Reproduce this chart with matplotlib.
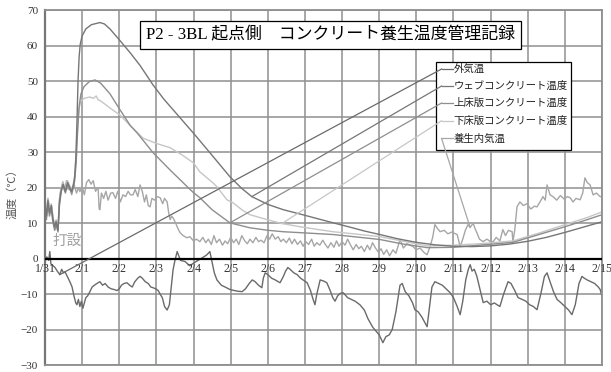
import numpy as np
import matplotlib as mpl
mpl.rcParams['font.family'] = ['Liberation Serif', 'Noto Sans CJK JP']
mpl.rcParams['axes.unicode_minus'] = True
from matplotlib import pyplot as plt
from matplotlib.patches import Rectangle

title = 'P2 - 3BL 起点側　コンクリート養生温度管理記録'
day_labels = ['1/31', '2/1', '2/2', '2/3', '2/4', '2/5', '2/6', '2/7', '2/8',
              '2/9', '2/10', '2/11', '2/12', '2/13', '2/14', '2/15']
series_names = ['外気温', 'ウェブコンクリート温度', '上床版コンクリート温度',
                '下床版コンクリート温度', '養生内気温']

# days counted from 1/31 0:00
out_day = [0.00, 0.05, 0.10, 0.13, 0.16, 0.22, 0.27, 0.33, 0.40, 0.45, 0.50, 0.54,
           0.60, 0.67, 0.73, 0.78, 0.83, 0.86, 0.90, 0.94, 0.98, 1.02, 1.06, 1.10,
           1.15, 1.21, 1.27, 1.33, 1.40, 1.48, 1.55, 1.62, 1.70, 1.78, 1.86, 1.94,
           2.00, 2.06, 2.13, 2.21, 2.28, 2.35, 2.42, 2.50, 2.56, 2.62, 2.70, 2.78,
           2.85, 2.91, 2.98, 3.05, 3.10, 3.16, 3.22, 3.29, 3.35, 3.40, 3.45, 3.50,
           3.56, 3.65, 3.77, 3.90, 4.04, 4.20, 4.35, 4.44, 4.50, 4.56, 4.63, 4.75,
           4.85, 4.98, 5.10, 5.20, 5.31, 5.40, 5.50, 5.58, 5.66, 5.75, 5.84, 5.88,
           5.93, 6.00, 6.10, 6.20, 6.33, 6.42, 6.48, 6.54, 6.60, 6.70, 6.79, 6.88,
           6.95, 7.06, 7.15, 7.22, 7.27, 7.32, 7.41, 7.50, 7.59, 7.68, 7.75, 7.81,
           7.88, 7.95, 8.03, 8.15, 8.25, 8.35, 8.48, 8.60, 8.70, 8.83, 8.92, 9.00,
           9.10, 9.18, 9.27, 9.35, 9.45, 9.56, 9.62, 9.70, 9.80, 9.90, 9.96, 10.05,
           10.15, 10.29, 10.35, 10.42, 10.50, 10.60, 10.70, 10.80, 10.91, 11.00, 11.10, 11.18,
           11.25, 11.33, 11.40, 11.45, 11.50, 11.56, 11.63, 11.70, 11.80, 11.90, 12.00, 12.10,
           12.25, 12.35, 12.47, 12.55, 12.65, 12.74, 12.85, 12.95, 13.05, 13.15, 13.25, 13.35,
           13.45, 13.52, 13.60, 13.70, 13.79, 13.90, 14.00, 14.10, 14.19, 14.28, 14.38, 14.46,
           14.52, 14.60, 14.70, 14.80, 14.90, 14.95, 15.00]
out_temp = [-1.0, 0.5, -0.5, 2.0, -1.5, -2.0, -2.5, -3.5, -4.5, -3.0, -4.0, -3.7,
            -5.0, -6.5, -8.0, -10.5, -12.5, -13.0, -11.5, -13.5, -12.0, -14.0, -12.5, -11.0,
            -10.5, -9.3, -8.0, -7.5, -7.0, -6.5, -7.5, -7.0, -8.0, -8.5, -8.7, -9.0,
            -8.5, -7.5, -7.0, -6.8, -7.5, -8.0, -6.5, -5.5, -5.0, -5.5, -6.5, -7.0,
            -8.0, -8.2, -8.5, -9.0, -10.0, -11.0, -13.5, -14.5, -13.0, -8.0, -3.1, -0.5,
            2.0, -0.5, -0.8, -2.0, -1.0, 0.0, 1.0, 2.0, -1.0, -4.0, -6.0, -7.5,
            -8.0, -8.7, -9.0, -9.2, -9.3, -8.5, -7.0, -6.0, -6.5, -7.5, -8.2, -5.5,
            -4.0, -4.5, -5.5, -6.0, -6.8, -5.0, -3.5, -2.5, -3.0, -4.0, -4.5, -5.5,
            -6.0, -6.8, -9.0, -11.5, -13.0, -10.0, -6.0, -6.3, -6.8, -9.0, -11.0, -12.0,
            -10.5, -9.8, -9.6, -11.0, -11.5, -12.0, -13.0, -14.5, -17.0, -19.4, -20.5, -21.5,
            -23.7, -22.0, -21.5, -20.0, -15.0, -7.5, -7.0, -9.3, -10.5, -12.5, -14.4, -15.0,
            -16.5, -19.2, -14.0, -8.0, -6.5, -7.0, -7.5, -8.5, -9.6, -11.0, -13.5, -15.8,
            -12.0, -6.0, -3.0, -1.7, -3.5, -3.0, -5.0, -8.0, -12.4, -12.0, -13.0, -12.5,
            -13.5, -10.0, -6.5, -7.0, -9.0, -11.0, -11.5, -12.0, -13.0, -13.5, -14.4, -10.0,
            -5.0, -4.0, -6.5, -9.5, -11.5, -12.5, -13.5, -14.5, -15.8, -13.0, -7.0, -5.0,
            -5.5, -6.0, -6.5, -7.0, -8.0, -8.7, -10.7]

web_day = [0.00, 0.04, 0.08, 0.12, 0.17, 0.21, 0.26, 0.30, 0.35, 0.39, 0.44, 0.49,
           0.55, 0.61, 0.67, 0.72, 0.77, 0.80, 0.83, 0.86, 0.89, 0.92, 0.95, 1.00,
           1.10, 1.25, 1.48, 1.60, 1.75, 2.02, 2.30, 2.56, 2.91, 3.20, 3.55, 3.99,
           4.44, 4.98, 5.30, 5.57, 6.00, 6.42, 6.90, 7.33, 7.80, 8.21, 8.60, 9.02,
           9.50, 10.00, 10.50, 11.00, 11.50, 12.00, 12.50, 13.00, 13.50, 14.00, 14.50, 15.00]
web_temp = [15.5, 12.0, 16.5, 13.0, 15.0, 11.5, 9.0, 10.5, 8.0, 16.0, 19.5, 21.0,
            19.0, 21.5, 20.0, 19.0, 21.0, 23.0, 28.0, 38.0, 50.0, 57.0, 60.5, 62.8,
            64.8, 66.0, 66.6, 66.2, 64.8, 61.5, 58.0, 54.5, 49.0, 45.0, 40.8, 35.5,
            29.9, 23.1, 19.8, 17.5, 15.3, 13.8, 12.5, 11.3, 10.0, 8.9, 7.8, 6.8,
            5.6, 4.6, 3.9, 3.5, 3.4, 3.6, 4.1, 4.9, 6.0, 7.4, 8.9, 10.4]

top_day = [0.00, 0.04, 0.08, 0.12, 0.17, 0.21, 0.26, 0.30, 0.35, 0.39, 0.44, 0.49,
           0.55, 0.61, 0.67, 0.72, 0.77, 0.80, 0.84, 0.88, 0.92, 0.97, 1.05, 1.20,
           1.35, 1.50, 1.75, 2.02, 2.30, 2.48, 2.91, 3.37, 3.83, 4.00, 4.17, 4.50,
           4.98, 5.52, 6.00, 6.41, 7.10, 7.76, 8.40, 9.02, 9.60, 10.30, 11.00, 11.70,
           12.60, 13.30, 14.00, 14.60, 15.00]
top_temp = [14.0, 11.0, 15.5, 12.0, 14.0, 10.5, 8.0, 9.5, 7.5, 15.0, 19.0, 20.5,
            18.5, 21.0, 19.5, 18.5, 20.5, 22.0, 27.0, 36.0, 43.0, 46.5, 48.5, 50.0,
            50.4, 49.5, 46.5, 42.0, 37.5, 35.5, 29.9, 25.0, 20.3, 18.6, 17.2, 13.8,
            10.1, 8.7, 8.0, 7.6, 7.2, 6.8, 6.1, 5.4, 4.2, 3.1, 3.2, 3.8,
            4.6, 6.8, 9.0, 11.0, 12.4]

bot_day = [0.00, 0.04, 0.08, 0.12, 0.17, 0.21, 0.26, 0.30, 0.35, 0.39, 0.44, 0.49,
           0.55, 0.61, 0.67, 0.72, 0.77, 0.80, 0.84, 0.88, 0.92, 0.97, 1.05, 1.21,
           1.30, 1.38, 1.43, 1.50, 1.75, 2.02, 2.30, 2.64, 3.00, 3.37, 3.70, 4.00,
           4.17, 4.52, 4.63, 4.90, 5.06, 5.30, 5.52, 5.98, 6.38, 6.87, 7.30, 7.76,
           8.40, 9.02, 9.60, 10.30, 11.00, 11.70, 12.60, 13.30, 14.00, 14.60, 15.00]
bot_temp = [16.5, 13.0, 17.0, 14.0, 15.5, 12.0, 9.5, 11.0, 9.0, 17.0, 20.0, 21.5,
            19.5, 22.0, 20.5, 19.5, 21.5, 23.5, 30.0, 38.0, 42.5, 44.5, 45.2, 45.6,
            45.2, 45.9, 44.8, 44.5, 42.5, 40.5, 37.5, 34.0, 32.5, 31.3, 29.2, 27.0,
            24.5, 21.4, 20.3, 16.6, 15.8, 13.8, 12.4, 11.0, 9.9, 9.0, 8.3, 7.6,
            6.9, 6.2, 5.0, 3.6, 3.8, 4.2, 5.0, 7.2, 9.6, 11.6, 13.2]

air_day = [0.00, 0.04, 0.08, 0.13, 0.18, 0.22, 0.27, 0.31, 0.35, 0.40, 0.44, 0.48,
           0.53, 0.58, 0.63, 0.67, 0.72, 0.78, 0.85, 0.90, 0.94, 1.00, 1.06, 1.12,
           1.18, 1.24, 1.30, 1.36, 1.43, 1.46, 1.48, 1.52, 1.58, 1.64, 1.70, 1.77,
           1.83, 1.90, 1.96, 2.03, 2.10, 2.17, 2.24, 2.30, 2.37, 2.43, 2.50, 2.56,
           2.62, 2.68, 2.73, 2.78, 2.83, 2.88, 2.95, 3.02, 3.10, 3.17, 3.22, 3.29,
           3.33, 3.37, 3.41, 3.45, 3.52, 3.58, 3.64, 3.72, 3.82, 3.90, 4.00, 4.08,
           4.17, 4.25, 4.33, 4.40, 4.48, 4.55, 4.62, 4.70, 4.78, 4.85, 4.92, 5.00,
           5.08, 5.15, 5.22, 5.30, 5.38, 5.45, 5.52, 5.60, 5.68, 5.75, 5.82, 5.90,
           5.98, 6.05, 6.12, 6.20, 6.28, 6.35, 6.42, 6.50, 6.58, 6.65, 6.72, 6.80,
           6.88, 6.95, 7.02, 7.10, 7.18, 7.25, 7.32, 7.40, 7.48, 7.55, 7.62, 7.70,
           7.78, 7.85, 7.92, 8.00, 8.08, 8.15, 8.22, 8.30, 8.38, 8.45, 8.52, 8.60,
           8.68, 8.75, 8.82, 8.90, 8.98, 9.05, 9.12, 9.20, 9.28, 9.37, 9.45, 9.56,
           9.65, 9.75, 9.91, 10.00, 10.10, 10.20, 10.29, 10.37, 10.44, 10.50, 10.57, 10.64,
           10.75, 10.85, 10.95, 11.10, 11.18, 11.25, 11.32, 11.39, 11.45, 11.53, 11.58, 11.63,
           11.70, 11.80, 11.90, 12.00, 12.07, 12.15, 12.25, 12.33, 12.40, 12.48, 12.58, 12.60,
           12.65, 12.71, 12.79, 12.88, 12.98, 13.08, 13.18, 13.25, 13.33, 13.41, 13.47, 13.52,
           13.60, 13.68, 13.78, 13.88, 13.98, 14.06, 14.14, 14.22, 14.30, 14.41, 14.48, 14.54,
           14.60, 14.68, 14.76, 14.85, 14.95, 15.00]
air_temp = [16.0, 12.0, 17.0, 13.8, 15.0, 11.0, 8.2, 10.0, 8.2, 18.0, 20.0, 21.7,
            19.0, 22.0, 19.5, 20.0, 18.0, 21.0, 18.5, 20.0, 18.9, 20.5, 18.0, 21.5,
            22.3, 21.0, 22.0, 19.0, 20.0, 14.0, 13.8, 18.5, 17.0, 19.0, 16.5, 18.5,
            18.6, 17.0, 19.0, 16.0, 18.0, 17.5, 19.0, 18.0, 18.0, 19.5, 17.5, 20.8,
            19.0, 16.0, 18.0, 15.0, 14.6, 17.0, 16.5, 17.5, 17.2, 15.5, 17.0, 16.0,
            13.0, 11.0, 12.0, 11.5, 10.0, 8.5, 7.3, 6.5, 5.9, 6.2, 5.0, 5.5,
            4.8, 6.0, 4.5, 5.5, 4.0, 6.5, 4.5, 5.5, 3.8, 5.0, 4.2, 6.0,
            4.5, 5.5, 4.0, 6.5, 5.0, 4.2, 5.5, 4.5, 6.0, 4.8, 5.2, 4.5,
            6.5, 5.5, 7.0, 5.5, 6.2, 4.8, 5.5, 4.5, 5.8, 4.2, 5.5, 4.0,
            5.0, 3.5, 4.8, 4.0, 5.5, 3.5, 4.5, 3.8, 5.2, 4.0, 3.0, 4.5,
            3.2, 5.0, 3.5, 4.8, 3.8, 5.5, 4.0, 2.5, 4.0, 2.8, 3.5, 2.0,
            3.8, 2.5, 4.5, 3.0, 1.8, 2.8, 1.2, 2.5, 0.8, 2.5, 1.5, 5.4,
            3.0, 4.2, 3.4, 2.5, 3.0, 1.8, 1.1, 3.4, 6.0, 9.6, 8.5, 7.6,
            8.0, 7.0, 7.5, 6.8, 3.4, 5.5, 8.0, 9.6, 8.8, 10.0, 8.5, 7.3,
            5.5, 4.8, 5.5, 4.8, 4.8, 6.0, 5.0, 8.2, 6.5, 8.0, 7.6, 4.8,
            8.0, 14.6, 16.0, 15.0, 15.5, 14.0, 14.8, 14.6, 16.0, 17.5, 16.5, 20.8,
            18.0, 17.5, 16.5, 17.8, 16.8, 17.5, 17.2, 16.0, 17.0, 16.6, 18.5, 22.8,
            21.5, 20.8, 18.0, 18.5, 17.5, 17.5]

colors = ['#6a6a6a', '#767676', '#8e8e8e', '#c6c6c6', '#a6a6a6']

fig = plt.figure(figsize=(6.11, 3.72), dpi=100)
ax = fig.add_axes([0.0736, 0.0188, 0.9117, 0.953])

ax.set_xlim(0, 15)
ax.set_ylim(-30, 70)
ax.set_xticks(np.arange(0, 16, 1))
ax.set_xticklabels([])
ax.set_yticks(np.arange(-30, 71, 10))
ax.tick_params(axis='x', length=0)
ax.tick_params(axis='y', length=0, pad=5, labelsize=8, labelcolor='#333333')
ax.grid(True, color='#8f8f8f', lw=1.1)
ax.set_axisbelow(True)
for s in ax.spines.values():
    s.set_color('#8f8f8f')
    s.set_linewidth(1.3)
ax.spines['left'].set_color('#777777')
ax.spines['left'].set_linewidth(1.6)
ax.axhline(0, color='black', lw=1.6, zorder=3)

# date labels sit just under the zero line
for d, lab in enumerate(day_labels):
    ax.text(d, -1.2, lab, ha='center', va='top', fontsize=8.5, color='#333333', zorder=4)

ax.set_ylabel('温度（℃）', fontsize=8, color='#555555')
ax.yaxis.set_label_coords(-0.05, 0.49)

series = [(out_day, out_temp), (web_day, web_temp), (top_day, top_temp),
          (bot_day, bot_temp), (air_day, air_temp)]
order = [4, 3, 2, 1, 0]
for i in order:
    d, t = series[i]
    ax.plot(d, t, color=colors[i], lw=1.0, zorder=2)

ax.text(0.6, 4.8, '打設', ha='center', va='center', fontsize=10.5, color='#a0a0a0')

# title box
ax.text(7.69, 63, title, ha='center', va='center', fontsize=12.2, color='black',
        bbox=dict(boxstyle='square,pad=0.35', fc='white', ec='black', lw=0.9), zorder=5)

# legend box with leader lines to each curve
ax.add_patch(Rectangle((10.53, 30.7), 3.64, 24.8, fc='white', ec='black', lw=0.9, zorder=5))
leg_y = [53.5, 48.7, 43.9, 38.9, 33.9]
leg_x = 10.68
leader_day = [0.40, 5.57, 4.98, 6.38, 11.45]
for i, name in enumerate(series_names):
    d, t = series[i]
    target = np.interp(leader_day[i], d, t)
    ax.plot([leader_day[i], leg_x], [target, leg_y[i]], color=colors[i], lw=0.9, zorder=6)
    ax.plot([leg_x, leg_x + 0.3], [leg_y[i], leg_y[i]], color=colors[i], lw=0.9, zorder=6)
    ax.text(leg_x + 0.32, leg_y[i], name, ha='left', va='center', fontsize=7.5,
            color='#222222', zorder=6)

plt.savefig('out.png', dpi=100)
